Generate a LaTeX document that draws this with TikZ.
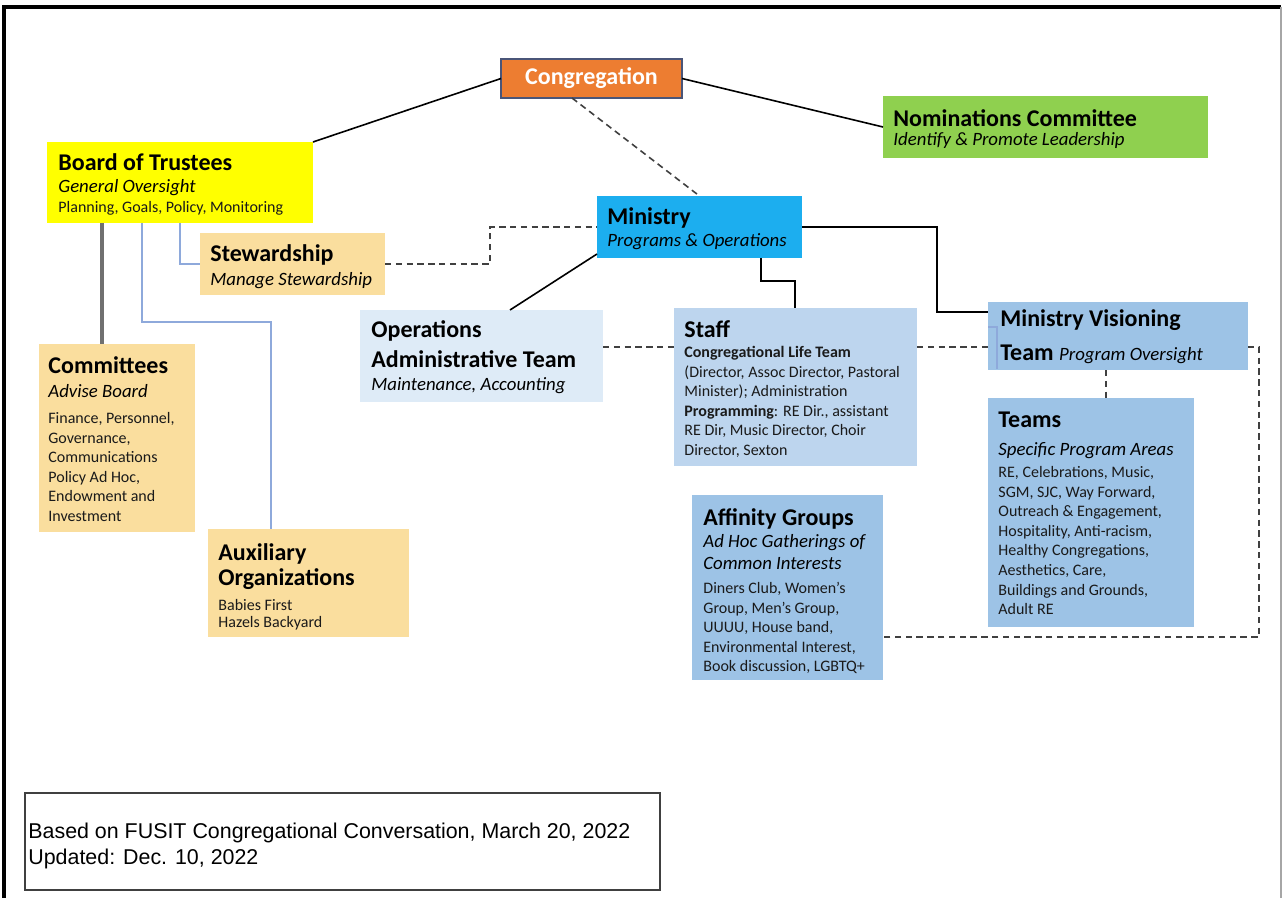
\documentclass[tikz,border=0pt]{standalone}
\usepackage{fontspec}
\setmainfont{Carlito}
\newfontfamily\footfont{Liberation Sans}
\definecolor{congorange}{HTML}{ED7D31}
\definecolor{congborder}{HTML}{4A5578}
\definecolor{boardyellow}{HTML}{FFFF00}
\definecolor{nomgreen}{HTML}{8FD04F}
\definecolor{minblue}{HTML}{1CAEEF}
\definecolor{tan}{HTML}{FADE9E}
\definecolor{opsblue}{HTML}{DEEBF7}
\definecolor{staffblue}{HTML}{BDD5EE}
\definecolor{midblue}{HTML}{9DC3E6}
\definecolor{dashgray}{HTML}{404040}
\definecolor{linkblue}{HTML}{8EA9DB}
\definecolor{linkgray}{HTML}{707070}
\definecolor{textdark}{HTML}{1A1A1A}
\begin{document}
\begin{tikzpicture}[x=0.5pt,y=-0.5pt,
  box/.style={anchor=north west, inner sep=0pt, outer sep=0pt, draw=none},
  ttl/.style={anchor=base west, inner sep=0pt, font=\fontsize{12}{14}\selectfont\bfseries},
  sub/.style={anchor=base west, inner sep=0pt, font=\fontsize{9.4}{11}\selectfont\itshape},
  bdy/.style={anchor=base west, inner sep=0pt, text=textdark, font=\fontsize{8}{9.8}\selectfont},
  bdyblk/.style={anchor=north west, inner sep=0pt, align=left, text=textdark, font=\fontsize{8}{9.8}\selectfont},
  solidc/.style={draw=black, line width=0.8pt},
  dashc/.style={draw=dashgray, line width=0.8pt, dash pattern=on 3.2pt off 2.2pt},
  bluec/.style={draw=linkblue, line width=0.8pt},
  grayc/.style={draw=linkgray, line width=1.6pt},
]
\useasboundingbox (0,0) rectangle (1283,898);
% frame
\draw[line width=1.6pt] (4,898) -- (4,7) -- (1281,7);
\draw[gray!70, line width=0.6pt] (1281,7) -- (1281,898);

% helper coordinates
\coordinate (x102) at (102,0);
\coordinate (x142) at (142,0);
\coordinate (x180) at (180,0);
\coordinate (k271) at (271,322);
\coordinate (k490) at (490,227);
\coordinate (x510) at (510,0);
\coordinate (x572) at (572,0);
\coordinate (x761) at (761,0);
\coordinate (k795) at (795,281);
\coordinate (k937) at (937,312);
\coordinate (y347) at (0,347);
\coordinate (x1106) at (1106,0);
\coordinate (k1259) at (1259,637);
\coordinate (y327) at (0,327);
\coordinate (b997a) at (997,327);
\coordinate (b997b) at (997,369);

% boxes
\node[box, fill=congorange, draw=congborder, line width=0.8pt, minimum width=90.5pt, minimum height=19.5pt, text=white, font=\fontsize{12}{14}\selectfont\bfseries] (cong) at (501,59) {Congregation};
\node[box, fill=boardyellow, minimum width=133pt, minimum height=40.5pt] (bot) at (47,142) {};
\node[box, fill=nomgreen, minimum width=162.5pt, minimum height=31pt] (nom) at (883,96) {};
\node[box, fill=minblue, minimum width=102.5pt, minimum height=31pt] (min) at (597,196) {};
\node[box, fill=tan, minimum width=92.5pt, minimum height=31pt] (stew) at (200,233) {};
\node[box, fill=opsblue, minimum width=121.5pt, minimum height=46pt] (ops) at (360,310) {};
\node[box, fill=staffblue, minimum width=121.5pt, minimum height=79pt] (staff) at (674,308) {};
\node[box, fill=midblue, minimum width=130pt, minimum height=34pt] (mvt) at (988,302) {};
\node[box, fill=midblue, minimum width=103pt, minimum height=114.5pt] (teams) at (988,398) {};
\node[box, fill=midblue, minimum width=95.5pt, minimum height=92.5pt] (aff) at (692,495) {};
\node[box, fill=tan, minimum width=78pt, minimum height=94pt] (com) at (39,344) {};
\node[box, fill=tan, minimum width=100.5pt, minimum height=54pt] (aux) at (208,529) {};
\node[box, fill=white, draw=dashgray, line width=0.8pt, minimum width=317.5pt, minimum height=48.5pt] (foot) at (25,793) {};

% connectors
\draw[solidc] (cong.west) -- (bot.north east);
\draw[solidc] (cong.east) -- (nom.west);
\draw[dashc] (cong.south -| x572) -- (min.north);
\draw[grayc] (bot.south -| x102) -- (com.north -| x102);
\draw[bluec] (bot.south -| x142) |- (k271) -- (aux.north -| k271);
\draw[bluec] (bot.south -| x180) |- (stew.west);
\draw[dashc] (stew.east) -| (k490) -- (min.west);
\draw[solidc] ([yshift=2]min.south west) -- (ops.north -| x510);
\draw[solidc] (min.south -| x761) |- (k795) -- (staff.north -| k795);
\draw[solidc] (min.east) -| (k937) -- (mvt.west |- k937);
\draw[dashc] (ops.east |- y347) -- (staff.west |- y347);
\draw[dashc] (staff.east |- y347) -- (mvt.west |- y347);
\draw[dashc] (mvt.south -| x1106) -- (teams.north -| x1106);
\draw[dashc] (mvt.east |- y347) -| (k1259) -- (aff.east |- k1259);
\draw[bluec, line width=0.6pt] (mvt.west |- y327) -- (b997a) -- (b997b);

% texts: Board
\node[ttl] (bot1) at (58,171) {Board of Trustees};
\node[sub] (bot2) at (58,193) {General Oversight};
\node[bdy] (bot3) at (58,213) {Planning, Goals, Policy, Monitoring};
% Nominations
\node[ttl] (nom1) at (893,127) {Nominations Committee};
\node[sub] (nom2) at (893,146) {Identify \& Promote Leadership};
% Ministry
\node[ttl] (min1) at (607,225) {Ministry};
\node[sub] (min2) at (607,247) {Programs \& Operations};
% Stewardship
\node[ttl] (stew1) at (210,262) {Stewardship};
\node[sub] (stew2) at (210,286) {Manage Stewardship};
% Operations
\node[ttl] (ops1) at (371,337) {Operations};
\node[ttl] (ops2) at (371,367) {Administrative Team};
\node[sub] (ops3) at (371,390) {Maintenance, Accounting};
% Staff
\node[ttl] (st1) at (684,337) {Staff};
\node[bdyblk] (st2) at (684,343) {\rule{0pt}{7pt}\textbf{Congregational Life Team}\\(Director, Assoc Director, Pastoral\\Minister); Administration\\\textbf{Programming}: RE Dir., assistant\\RE Dir, Music Director, Choir\\Director, Sexton};
% MVT
\node[ttl] (mv1) at (1000,327) {Ministry Visioning};
\node[ttl] (mv2) at (1000,360) {Team \fontsize{9.4}{11}\selectfont\mdseries\itshape Program Oversight};
% Teams
\node[ttl] (tm1) at (998,427) {Teams};
\node[sub] (tm2) at (998,455) {Specific Program Areas};
\node[bdyblk] (tm3) at (998,463) {\rule{0pt}{7pt}RE, Celebrations, Music,\\SGM, SJC, Way Forward,\\Outreach \& Engagement,\\Hospitality, Anti-racism,\\Healthy Congregations,\\Aesthetics, Care,\\Buildings and Grounds,\\Adult RE};
% Affinity
\node[ttl] (af1) at (703,525) {Affinity Groups};
\node[sub] (af2) at (703,547) {Ad Hoc Gatherings of};
\node[sub] (af3) at (703,569) {Common Interests};
\node[bdyblk] (af4) at (703,579) {\rule{0pt}{7pt}Diners Club, Women's\\Group, Men's Group,\\UUUU, House band,\\Environmental Interest,\\Book discussion, LGBTQ+};
% Committees
\node[ttl] (cm1) at (48,373) {Committees};
\node[sub] (cm2) at (48,397) {Advise Board};
\node[bdyblk] (cm3) at (48,409) {\rule{0pt}{7pt}Finance, Personnel,\\Governance,\\Communications\\Policy Ad Hoc,\\Endowment and\\Investment};
% Auxiliary
\node[ttl] (ax1) at (218,560) {Auxiliary};
\node[ttl] (ax2) at (218,585) {Organizations};
\node[bdyblk, font=\fontsize{8}{8.5}\selectfont] (ax3) at (218,596) {\rule{0pt}{7pt}Babies First\\Hazels Backyard};
% footer
\node[anchor=base west, inner sep=0pt, font=\footfont\fontsize{10.7}{12}\selectfont] (f1) at (28,838) {Based on FUSIT Congregational Conversation, March 20, 2022};
\node[anchor=base west, inner sep=0pt, font=\footfont\fontsize{10.7}{12}\selectfont] (f2) at (28,864) {Updated: Dec. 10, 2022};
\end{tikzpicture}
\end{document}
